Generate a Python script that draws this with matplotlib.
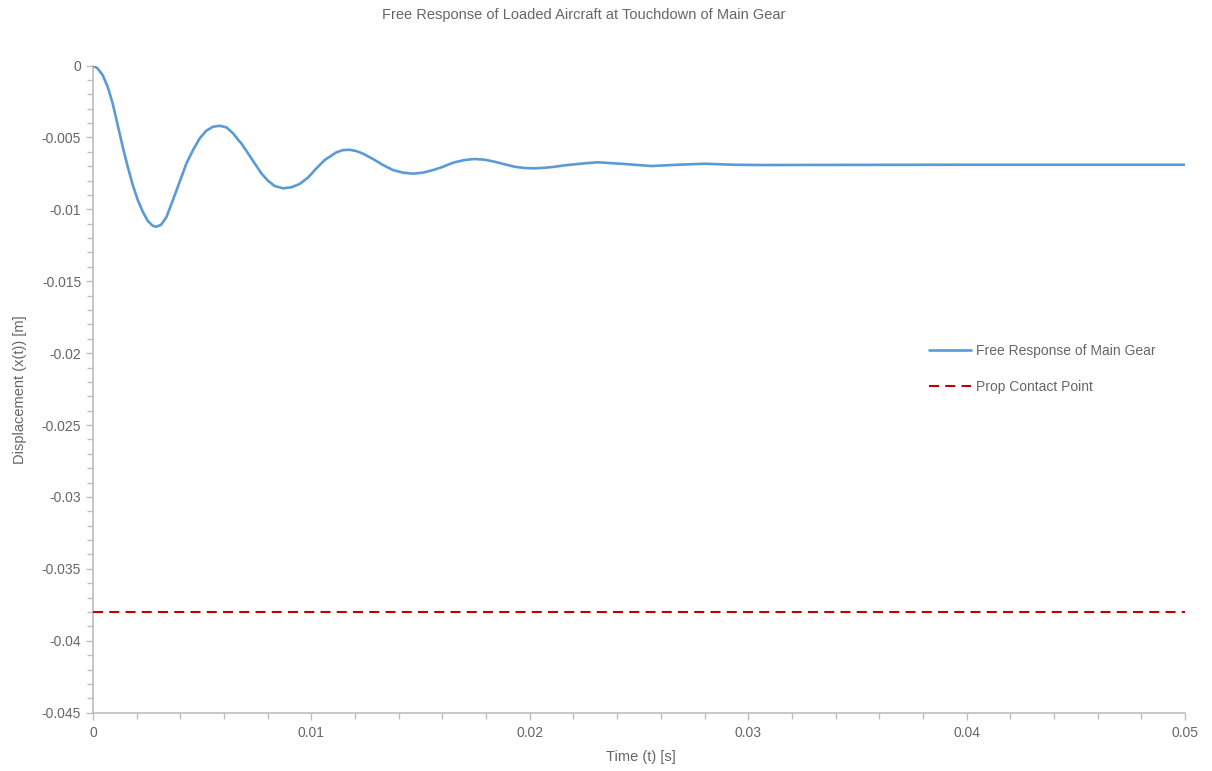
import matplotlib
matplotlib.use("Agg")
import matplotlib.pyplot as plt
from matplotlib.ticker import MultipleLocator, FuncFormatter

plt.rcParams['font.family'] = ['Liberation Sans', 'DejaVu Sans']
plt.rcParams['lines.scale_dashes'] = False

# Time samples [s] and main-gear displacement [m]
time_s = [0.00000, 0.00021, 0.00044, 0.00067, 0.00090, 0.00113, 0.00136, 0.00159,
          0.00182, 0.00205, 0.00228, 0.00250, 0.00273, 0.00288, 0.00311, 0.00336,
          0.00366, 0.00397, 0.00428, 0.00458, 0.00489, 0.00519, 0.00549, 0.00580,
          0.00611, 0.00641, 0.00668, 0.00679, 0.00710, 0.00740, 0.00771, 0.00801,
          0.00832, 0.00870, 0.00908, 0.00946, 0.00984, 0.01023, 0.01061, 0.01084,
          0.01114, 0.01145, 0.01176, 0.01206, 0.01236, 0.01282, 0.01328, 0.01374,
          0.01419, 0.01465, 0.01511, 0.01557, 0.01603, 0.01630, 0.01656, 0.01702,
          0.01748, 0.01793, 0.01839, 0.01885, 0.01931, 0.01977, 0.02023, 0.02068,
          0.02114, 0.02160, 0.02206, 0.02252, 0.02312, 0.02435, 0.02557, 0.02679,
          0.02801, 0.02930, 0.03053, 0.03500, 0.04000, 0.04500, 0.05000]
displacement_m = [0.00000, -0.00020, -0.00066, -0.00147, -0.00263, -0.00414, -0.00565, -0.00704,
                  -0.00831, -0.00935, -0.01017, -0.01079, -0.01114, -0.01121, -0.01109, -0.01055,
                  -0.00935, -0.00808, -0.00680, -0.00588, -0.00506, -0.00453, -0.00426, -0.00419,
                  -0.00430, -0.00471, -0.00523, -0.00541, -0.00611, -0.00680, -0.00750, -0.00801,
                  -0.00838, -0.00854, -0.00847, -0.00824, -0.00780, -0.00715, -0.00657, -0.00634,
                  -0.00604, -0.00588, -0.00586, -0.00595, -0.00613, -0.00650, -0.00692, -0.00727,
                  -0.00745, -0.00752, -0.00745, -0.00727, -0.00704, -0.00687, -0.00673, -0.00657,
                  -0.00650, -0.00655, -0.00669, -0.00687, -0.00704, -0.00713, -0.00715, -0.00711,
                  -0.00704, -0.00694, -0.00687, -0.00680, -0.00673, -0.00685, -0.00699, -0.00690,
                  -0.00683, -0.00690, -0.00692, -0.00691, -0.00690, -0.00690, -0.00690]

# Propeller ground-contact displacement [m]
prop_contact_m = -0.038
time_span = [0.0, 0.05]

title_text = "Free Response of Loaded Aircraft at Touchdown of Main Gear"
x_label = "Time (t) [s]"
y_label = "Displacement (x(t)) [m]"
series_labels = ["Free Response of Main Gear", "Prop Contact Point"]

text_color = "#666666"
axis_color = "#bdbdbd"

fig = plt.figure(figsize=(12.12, 7.71), dpi=100)
ax = fig.add_axes([93 / 1212, 1 - 712.7 / 771, (1185 - 93) / 1212, (712.7 - 65.5) / 771])

ax.plot(time_s, displacement_m, color="#5b9bd5", lw=1.9, label=series_labels[0],
        solid_joinstyle="round", solid_capstyle="round", zorder=3)
ax.plot(time_span, [prop_contact_m, prop_contact_m], color="#c00000", lw=1.5,
        dashes=(7.2, 4.5), label=series_labels[1], zorder=3)

ax.set_xlim(0, 0.05)
ax.set_ylim(-0.045, 0)

ax.xaxis.set_major_locator(MultipleLocator(0.01))
ax.xaxis.set_minor_locator(MultipleLocator(0.002))
ax.yaxis.set_major_locator(MultipleLocator(0.005))
ax.yaxis.set_minor_locator(MultipleLocator(0.001))


def fmt(v, _pos):
    s = f"{v:.3f}".rstrip("0").rstrip(".")
    if s in ("-0", ""):
        s = "0"
    return s


ax.xaxis.set_major_formatter(FuncFormatter(fmt))
ax.yaxis.set_major_formatter(FuncFormatter(fmt))

for side in ("top", "right"):
    ax.spines[side].set_visible(False)
for side in ("left", "bottom"):
    ax.spines[side].set_color(axis_color)
    ax.spines[side].set_linewidth(1.2)

ax.tick_params(which="both", direction="out", color=axis_color, width=1.0,
               labelcolor=text_color, labelsize=10)
ax.tick_params(which="major", length=5)
ax.tick_params(which="minor", length=4)
ax.tick_params(axis="y", which="major", pad=3.5)
ax.tick_params(axis="x", which="major", pad=4.5)

ax.set_xlabel(x_label, color=text_color, fontsize=10.5)
ax.xaxis.label.set_va("center")
ax.xaxis.set_label_coords((641 - 93) / 1092, (712.7 - 757) / 647.2)
ax.set_ylabel(y_label, color=text_color, fontsize=10.5)
ax.yaxis.label.set_va("center")
ax.yaxis.set_label_coords((20 - 93) / 1092, (712.7 - 390) / 647.2)

fig.text(584 / 1212, 1 - 15 / 771, title_text, ha="center", va="center",
         color=text_color, fontsize=10.5)

leg = ax.legend(loc="upper left", bbox_to_anchor=(929 / 1212, 1 - 344 / 771),
                bbox_transform=fig.transFigure, frameon=False, fontsize=10,
                handlelength=3.0, handletextpad=0.35, labelspacing=1.6,
                borderaxespad=0, borderpad=0)
for t in leg.get_texts():
    t.set_color(text_color)

fig.savefig("out.png", dpi=100)
